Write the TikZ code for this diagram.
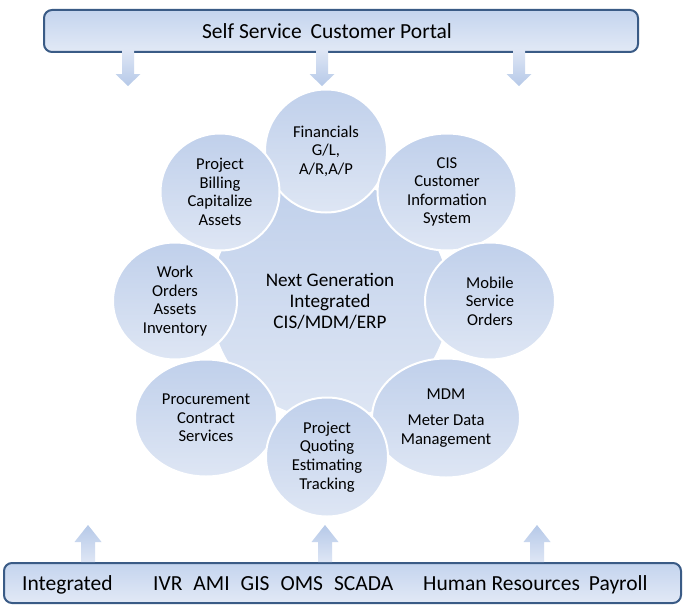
\documentclass[tikz,border=0pt]{standalone}
\usepackage{fontspec}
\setmainfont{Carlito}
\usetikzlibrary{shapes.geometric}
\definecolor{cTop}{RGB}{192,208,235}
\definecolor{cBot}{RGB}{222,230,244}
\definecolor{barTop}{RGB}{196,212,238}
\definecolor{barBot}{RGB}{226,233,246}
\definecolor{barLine}{RGB}{58,91,134}
\definecolor{arrDark}{RGB}{182,201,232}
\definecolor{arrLight}{RGB}{222,230,245}
\tikzset{
  sat/.style={ellipse, draw=white, line width=2pt, top color=cTop, bottom color=cBot,
    inner sep=0pt, align=center, font=\fontsize{16.6}{18.6}\selectfont, text=black},
  hub/.style={circle, draw=white, line width=2pt, top color=cTop, bottom color=cBot,
    inner sep=0pt, minimum size=240pt},
  hubtext/.style={align=center, font=\fontsize{19.2}{21}\selectfont, inner sep=0pt},
  barbox/.style={rectangle, draw=barLine, line width=2pt, rounded corners=8pt,
    top color=barTop, bottom color=barBot, inner sep=0pt},
  bartext/.style={font=\fontsize{21.5}{25}\selectfont, inner sep=0pt},
  downarrow/.style={top color=arrLight, bottom color=arrDark, draw=none},
  uparrow/.style={top color=arrDark, bottom color=arrLight, draw=none},
}
\newcommand{\wgap}{\hspace{11pt}}
\begin{document}
\begin{tikzpicture}[x=1pt,y=-1pt]
\useasboundingbox[fill=white] (0,0) rectangle (695,610);

% bars
\node[barbox, minimum width=594pt, minimum height=42pt, anchor=north west] (topbar) at (43,9) {};
\node[bartext, anchor=base] (toptext) at (327,38.5) {Self Service\hspace{9pt}Customer Portal};
\node[barbox, minimum width=677pt, minimum height=40pt, anchor=north west] (botbar) at (3,562) {};
\node[bartext, anchor=base west] (integ) at (22,590) {Integrated};
\node[bartext, anchor=base west] (sys) at (153,590) {IVR\wgap AMI\wgap GIS\wgap OMS\wgap SCADA};
\node[bartext, anchor=base west] (hr) at (423,590) {Human Resources\hspace{9pt}Payroll};

% top arrows
\foreach \c in {128,322,519}{
  \path[downarrow] (\c-6,50) -- (\c+6,50) -- (\c+6,74) -- (\c+12.5,74) -- (\c,86)
     -- (\c-12.5,74) -- (\c-6,74) -- cycle;
}
% bottom arrows
\foreach \c in {88,325,537}{
  \path[uparrow] (\c-7,562) -- (\c-7,542) -- (\c-13.5,542) -- (\c,525) -- (\c+13.5,542)
     -- (\c+7,542) -- (\c+7,562) -- cycle;
}

% hub
\node[hub] (hub) at (330,300) {};
\node[hubtext] (hubtxt) at (330,301) {Next Generation\\Integrated\\CIS/MDM/ERP};

% satellites
\node[sat, minimum width=122pt, minimum height=123pt] (fin) at (326,151) {Financials\\G/L,\\A/R,A/P};
\node[sat, minimum width=119pt, minimum height=117pt] (bill) at (220,192) {Project\\Billing\\Capitalize\\Assets};
\node[sat, minimum width=139pt, minimum height=117pt] (cis) at (447,192) {CIS\\Customer\\Information\\System};
\node[sat, minimum width=124pt, minimum height=117pt] (work) at (175,301) {Work\\Orders\\Assets\\Inventory};
\node[sat, minimum width=130pt, minimum height=117pt] (mob) at (490,301) {Mobile\\Service\\Orders};
\node[sat, minimum width=142pt, minimum height=117pt] (proc) at (206,418) {Procurement\\Contract\\Services};
\node[sat, minimum width=148pt, minimum height=119pt] (mdm) at (446,418) {MDM\\[7pt]Meter Data\\Management};
\node[sat, minimum width=122pt, minimum height=119pt] (quot) at (327,457) {Project\\Quoting\\Estimating\\Tracking};
\end{tikzpicture}
\end{document}
